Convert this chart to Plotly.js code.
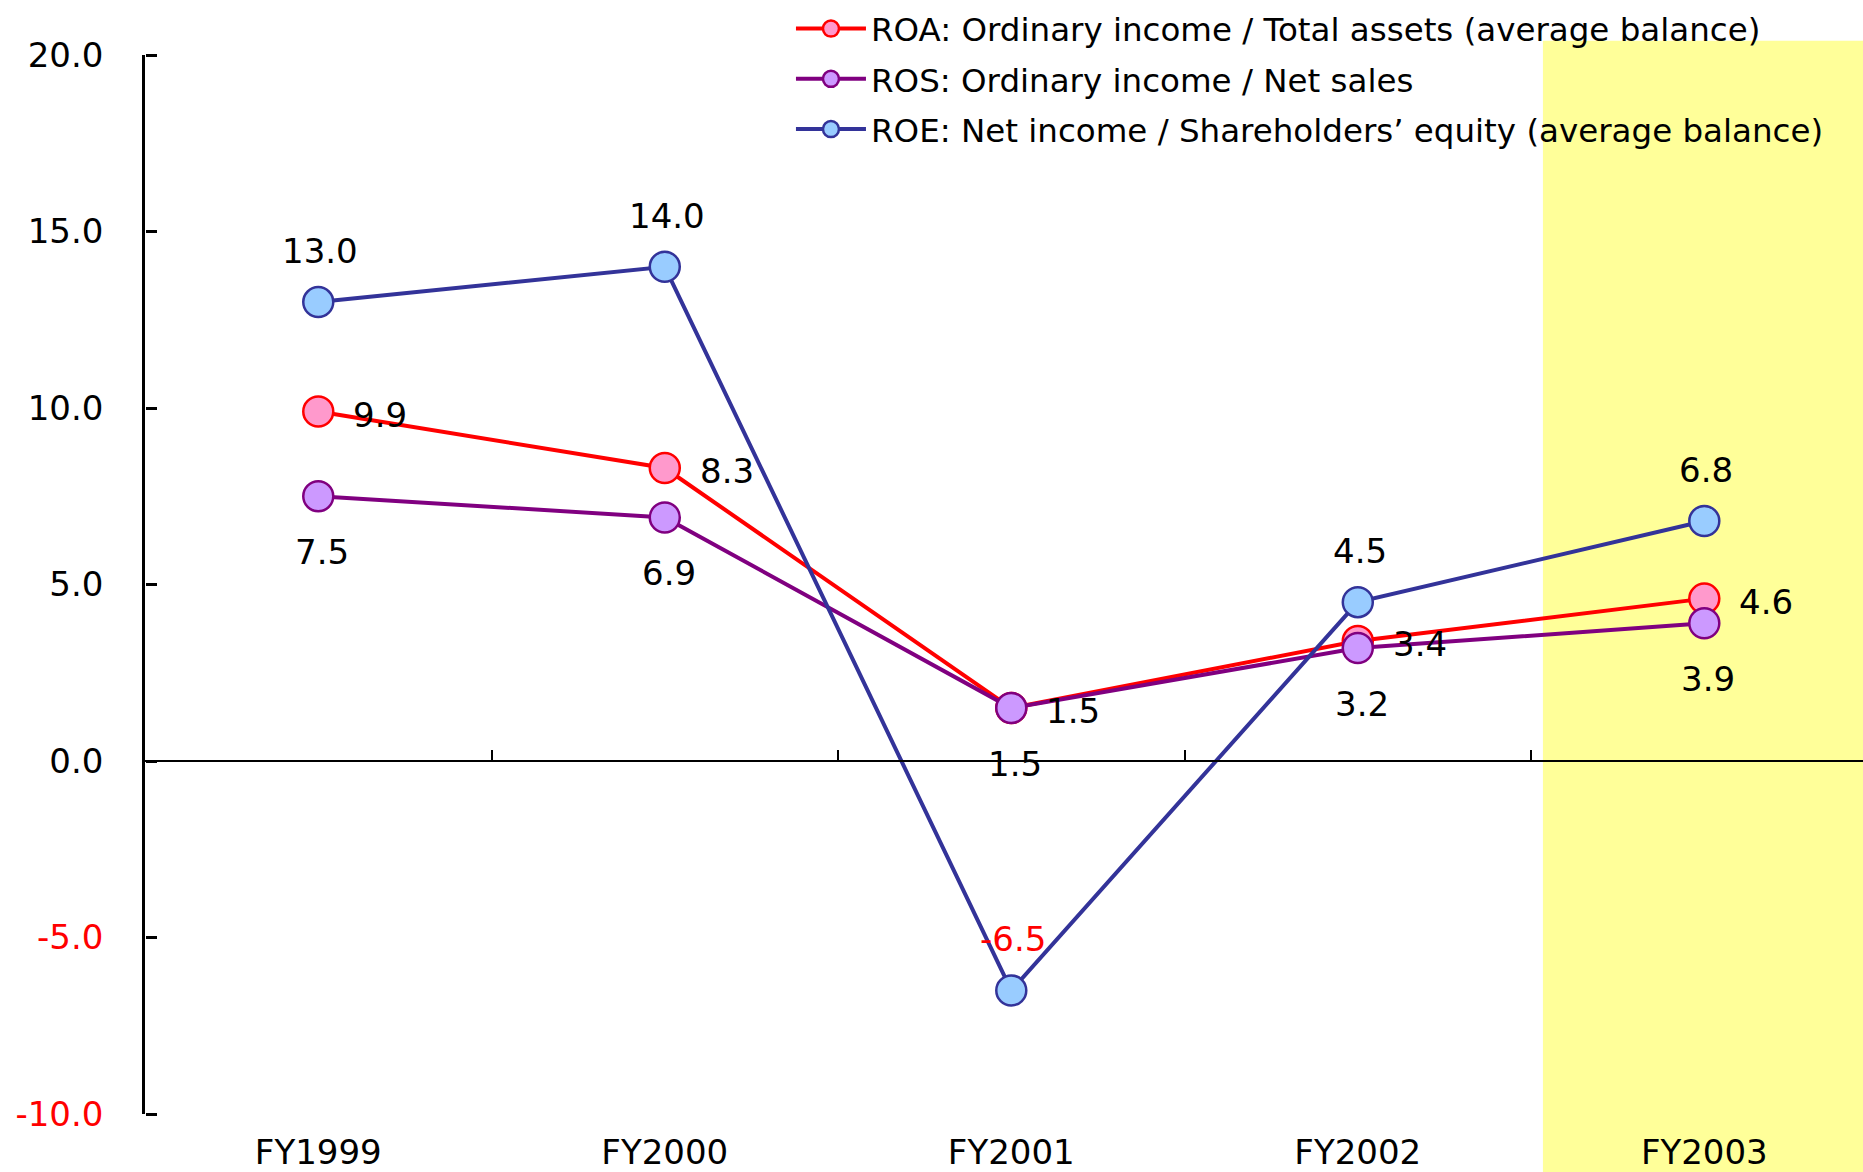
<!DOCTYPE html>
<html>
<head>
<meta charset="utf-8">
<script src="https://cdn.plot.ly/plotly-3.0.1.min.js"></script>
<style>html,body{margin:0;padding:0;background:#fff;}#chart{width:1863px;height:1172px;}</style>
</head>
<body>
<div id="chart"></div>
<script>
const categories = ["FY1999", "FY2000", "FY2001", "FY2002", "FY2003"];
const roaValues = [9.9, 8.3, 1.5, 3.4, 4.6];
const rosValues = [7.5, 6.9, 1.5, 3.2, 3.9];
const roeValues = [13.0, 14.0, -6.5, 4.5, 6.8];
const seriesNames = [
  "ROA: Ordinary income / Total assets (average balance)",
  "ROS: Ordinary income / Net sales",
  "ROE: Net income / Shareholders\u2019 equity (average balance)"
];
const yTickValues = [-10, -5, 0, 5, 10, 15, 20];

const FONT = "DejaVu Sans, Verdana, sans-serif";
const yMin = -10, yMax = 20;

function mk(name, vals, lineColor, fillColor, group) {
  return {
    type: "scatter", mode: "lines+markers", name: name, x: categories, y: vals,
    legendgroup: group,
    line: {color: lineColor, width: 4},
    marker: {symbol: "circle", size: 30, color: fillColor, line: {color: lineColor, width: 2.5}},
    hoverinfo: "x+y", cliponaxis: false
  };
}

const traces = [
  mk(seriesNames[0], roaValues, "#FF0000", "#FF99CC", "a"),
  mk(seriesNames[1], rosValues, "#800080", "#CC99FF", "b"),
  mk(seriesNames[2], roeValues, "#333399", "#99CCFF", "c"),
  {type: "scatter", mode: "none", x: categories, y: roeValues, xaxis: "x2", yaxis: "y2", showlegend: false, hoverinfo: "skip"}
];

const annotations = [];
function addLabels(vals, xs, ys) {
  vals.forEach((v, i) => {
    annotations.push({
      x: categories[i], y: v, xref: "x", yref: "y",
      text: v.toFixed(1), showarrow: false,
      xshift: xs, yshift: ys,
      font: {family: FONT, size: 34, color: v < 0 ? "#FF0000" : "#000000"}
    });
  });
}
addLabels(roaValues, 62, -3);
addLabels(rosValues, 4, -56);
addLabels(roeValues, 2, 51);

const yTickText = yTickValues.map(v => v < 0 ? '<span style="color:#FF0000">' + v.toFixed(1) + '</span>' : v.toFixed(1));

const layout = {
  width: 1863, height: 1172,
  margin: {l: 145, r: 0, t: 55, b: 58, pad: 0},
  paper_bgcolor: "#FFFFFF", plot_bgcolor: "rgba(0,0,0,0)",
  font: {family: FONT, size: 34, color: "#000"},
  showlegend: true,
  legend: {
    x: 0.376, xanchor: "left", y: 1.051, yanchor: "top",
    bgcolor: "rgba(0,0,0,0)", borderwidth: 0,
    font: {family: FONT, size: 32.5, color: "#000"},
    tracegroupgap: 5, traceorder: "grouped", itemwidth: 70
  },
  xaxis: {
    type: "category", categoryorder: "array", categoryarray: categories,
    range: [-0.5, 4.458], showline: false, ticks: "", showgrid: false, zeroline: false,
    tickfont: {family: FONT, size: 34, color: "#000"}, ticklabelstandoff: 15
  },
  xaxis2: {
    type: "category", categoryorder: "array", categoryarray: categories,
    overlaying: "x", matches: "x", anchor: "free", position: (0 - yMin) / (yMax - yMin),
    showline: true, linecolor: "#000", linewidth: 2,
    ticks: "inside", tickson: "boundaries", ticklen: 10, tickwidth: 2, tickcolor: "#000",
    showticklabels: false, showgrid: false, zeroline: false
  },
  yaxis: {
    range: [yMin, yMax], tickmode: "array", tickvals: yTickValues, ticktext: yTickText,
    showline: true, linecolor: "#000", linewidth: 2.5,
    ticks: "", showgrid: false, zeroline: false,
    tickfont: {family: FONT, size: 34, color: "#000"}, ticklabelstandoff: 32
  },
  yaxis2: {
    overlaying: "y", matches: "y", anchor: "free", position: 0, side: "right",
    tickmode: "array", tickvals: yTickValues,
    showline: false, ticks: "outside", ticklen: 11, tickwidth: 2.5, tickcolor: "#000",
    showticklabels: false, showgrid: false, zeroline: false
  },
  shapes: [{
    type: "rect", xref: "paper", yref: "paper",
    x0: 0.8137, x1: 1.05, y0: -0.1, y1: 1.0135,
    fillcolor: "#FFFF99", line: {width: 0}, layer: "below"
  }],
  annotations: annotations
};

Plotly.newPlot("chart", traces, layout, {displayModeBar: false, responsive: false});
</script>
</body>
</html>
